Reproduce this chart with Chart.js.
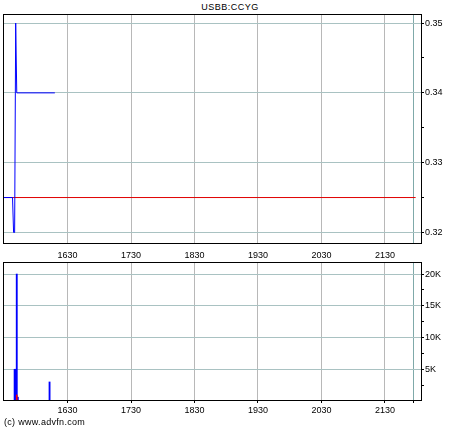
<!DOCTYPE html>
<html>
<head>
<meta charset="utf-8">
<script src="https://cdn.jsdelivr.net/npm/chart.js@4.4.1/dist/chart.umd.min.js"></script>
<style>
  html, body { margin: 0; padding: 0; background: #fff; }
  #wrap { position: relative; width: 460px; height: 430px; overflow: hidden; font-family: "Liberation Sans", Arial, sans-serif; color: #000; }
  #priceBox { position: absolute; left: 0; top: 0; width: 460px; height: 250px; }
  #volBox { position: absolute; left: 0; top: 250px; width: 460px; height: 180px; }
  .title { position: absolute; top: 2px; left: 0; width: 460px; text-align: center; font-size: 9px; letter-spacing: 0.5px; }
  .copy { position: absolute; left: 4px; top: 417px; font-size: 9px; letter-spacing: 0.3px; }
</style>
</head>
<body>
<div id="wrap">
  <div class="title">USBB:CCYG</div>
  <div id="priceBox"><canvas id="priceChart"></canvas></div>
  <div id="volBox"><canvas id="volChart"></canvas></div>
  <div class="copy">(c) www.advfn.com</div>
</div>
<script>
// times are minutes after midnight
const priceTimes = [929, 938, 939, 940, 941, 942, 978];
const prices = [0.325, 0.325, 0.32, 0.32, 0.35, 0.34, 0.34];
const prevClose = 0.325;
const prevCloseTimes = [929, 1319];

const volTimes = [940, 941, 942, 943, 973];
const volumes = [5000, 5000, 20000, 600, 3000];
const downVolTimes = [942];
const downVolumes = [950];

const hourTicks = [990, 1050, 1110, 1170, 1230, 1290];
const hourLabels = ['1630', '1730', '1830', '1930', '2030', '2130'];
const closeTime = 1317;
const xMin = 929, xMax = 1325;

const priceTicks = [0.32, 0.325, 0.33, 0.335, 0.34, 0.345, 0.35];
const priceLabels = ['0.32', '', '0.33', '', '0.34', '', '0.35'];
const volTicks = [2500, 5000, 7500, 10000, 12500, 15000, 17500, 20000];
const volLabels = ['', '5K', '', '10K', '', '15K', '', '20K'];

Chart.defaults.font.family = '"Liberation Sans", Arial, sans-serif';
Chart.defaults.font.size = 9;
Chart.defaults.color = '#000';
Chart.defaults.animation = false;

const frame = {
  id: 'frame',
  afterDraw(chart) {
    const a = chart.chartArea, c = chart.ctx;
    c.save();
    c.strokeStyle = '#000';
    c.lineWidth = 1;
    c.strokeRect(Math.round(a.left) + 0.5, Math.round(a.top) + 0.5,
      Math.round(a.right - a.left) - 1, Math.round(a.bottom - a.top) - 1);
    c.restore();
  }
};

// hour labels above the volume panel, placed through the x scale
const topLabels = {
  id: 'topLabels',
  afterDraw(chart) {
    const x = chart.scales.x, c = chart.ctx;
    c.save();
    c.font = '9px "Liberation Sans", Arial, sans-serif';
    c.fillStyle = '#000';
    c.textAlign = 'center';
    c.textBaseline = 'bottom';
    hourTicks.forEach((t, i) => {
      c.fillText(hourLabels[i], x.getPixelForValue(t), chart.chartArea.top - 2);
    });
    c.restore();
  }
};

const hGrid = '#a9c2c2';
const vGrid = '#b8b8b8';
const closeGrid = '#7fa9a9';

function timeAxis(extra) {
  return Object.assign({
    type: 'linear', min: xMin, max: xMax, offset: false,
    afterBuildTicks: s => { s.ticks = hourTicks.concat([closeTime]).map(v => ({ value: v })); },
    ticks: {
      autoSkip: false, maxRotation: 0, padding: 2,
      callback: (v, i) => (i < hourLabels.length ? hourLabels[i] : '')
    },
    grid: {
      offset: false,
      color: c => (c.tick && c.tick.value === closeTime ? closeGrid : vGrid),
      tickColor: '#000', tickLength: 2
    },
    border: { display: false }
  }, extra);
}

function valueAxis(ticks, labels, min, max) {
  return {
    type: 'linear', position: 'right', min: min, max: max,
    afterBuildTicks: s => { s.ticks = ticks.map(v => ({ value: v })); },
    afterFit: s => { s.width = 38; },
    ticks: { autoSkip: false, padding: 1, callback: (v, i) => labels[i] },
    grid: {
      color: c => (c.tick && labels[c.index] !== '' ? hGrid : 'rgba(0,0,0,0)'),
      tickColor: '#000', tickLength: 2
    },
    border: { display: false }
  };
}

new Chart(document.getElementById('priceChart'), {
  type: 'line',
  data: {
    datasets: [
      {
        label: 'price',
        data: priceTimes.map((t, i) => ({ x: t, y: prices[i] })),
        borderColor: '#0000ff', borderWidth: 1, pointRadius: 0, tension: 0, order: 1
      },
      {
        label: 'prev close',
        data: prevCloseTimes.map(t => ({ x: t, y: prevClose })),
        borderColor: '#e00000', borderWidth: 1, pointRadius: 0, order: 2
      }
    ]
  },
  options: {
    responsive: true, maintainAspectRatio: false,
    layout: { padding: { top: 14, left: 3, right: 0, bottom: 2 } },
    plugins: { legend: { display: false }, tooltip: { enabled: false } },
    scales: {
      x: timeAxis({
        ticks: { display: false },
        afterFit: s => { s.height = 0; },
        grid: {
          color: c => (c.tick && c.tick.value === closeTime ? closeGrid : vGrid),
          drawTicks: false
        }
      }),
      y: valueAxis(priceTicks, priceLabels, 0.3184, 0.3513)
    }
  },
  plugins: [frame]
});

new Chart(document.getElementById('volChart'), {
  type: 'bar',
  data: {
    datasets: [
      {
        label: 'down volume',
        data: downVolTimes.map((t, i) => ({ x: t, y: downVolumes[i] })),
        backgroundColor: '#ff0000', barThickness: 1, grouped: false, order: 1
      },
      {
        label: 'volume',
        data: volTimes.map((t, i) => ({ x: t, y: volumes[i] })),
        backgroundColor: '#0000ff', barThickness: 1.2, grouped: false, order: 2
      }
    ]
  },
  options: {
    responsive: true, maintainAspectRatio: false,
    layout: { padding: { top: 12, left: 3, right: 0, bottom: 14 } },
    plugins: { legend: { display: false }, tooltip: { enabled: false } },
    scales: {
      x: timeAxis({ position: 'bottom', afterFit: s => { s.height = 15; } }),
      y: valueAxis(volTicks, volLabels, 0, 21900)
    }
  },
  plugins: [frame, topLabels]
});
</script>
</body>
</html>
